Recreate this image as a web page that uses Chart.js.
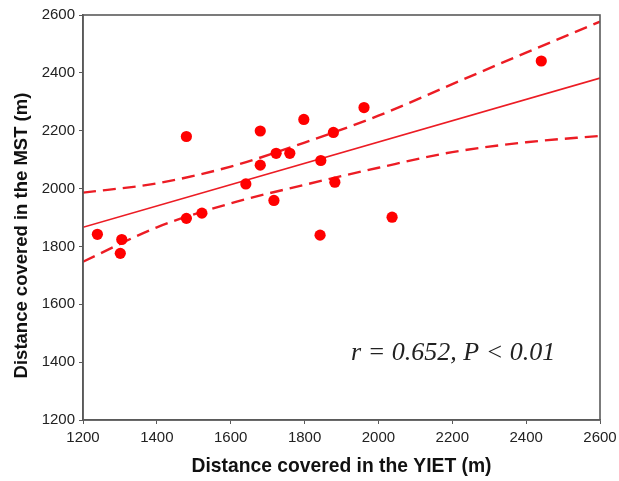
<!DOCTYPE html>
<html>
<head>
<meta charset="utf-8">
<script src="https://cdn.jsdelivr.net/npm/chart.js@4"></script>
<style>
  html, body { margin: 0; padding: 0; background: #fff; }
  #wrap { width: 619px; height: 481px; }
</style>
</head>
<body>
<div id="wrap"><canvas id="c" width="619" height="481"></canvas></div>
<script>
// ---- data ----
const yietDistance = [1239, 1305, 1301, 1480, 1480, 1522, 1641, 1680, 1680, 1723, 1717, 1760, 1798, 1844, 1842, 1878, 1882, 1961, 2037, 2441];
const mstDistance  = [1842, 1824, 1776, 2180, 1897, 1915, 2016, 2199, 2081, 2122, 1959, 2122, 2239, 2097, 1839, 2194, 2022, 2280, 1901, 2441];

const regressionX = [1200, 2600];
const regressionY = [1866, 2382];

const confX     = [1200, 1400, 1600, 1800, 2000, 2200, 2400, 2600];
const confUpper = [1986, 2018, 2076, 2159, 2252, 2361, 2470, 2577];
const confLower = [1747, 1866, 1949, 2013, 2072, 2126, 2160, 2182];

const xTickValues = [1200, 1400, 1600, 1800, 2000, 2200, 2400, 2600];
const yTickValues = [1200, 1400, 1600, 1800, 2000, 2200, 2400, 2600];

const xTitle = 'Distance covered in the YIET (m)';
const yTitle = 'Distance covered in the MST (m)';
const statText = 'r = 0.652, P < 0.01';
const statAt = { x: 1926, y: 1432 };

// ---- build ----
const zip = (xs, ys) => xs.map((x, i) => ({ x: x, y: ys[i] }));
const RED = 'rgb(255,0,0)';
const LINE_RED = 'rgb(236,28,36)';
const AXIS = '#5a5a5a';

const frame = {
  id: 'frame',
  afterDatasetsDraw(chart) {
    const { ctx, chartArea: a, scales } = chart;
    ctx.save();
    ctx.strokeStyle = AXIS;
    ctx.lineWidth = 1.6;
    ctx.strokeRect(a.left, a.top, a.right - a.left, a.bottom - a.top);
    ctx.font = 'italic 26px "Liberation Serif", "Times New Roman", serif';
    ctx.fillStyle = '#222';
    ctx.textAlign = 'left';
    ctx.textBaseline = 'middle';
    ctx.fillText(statText, scales.x.getPixelForValue(statAt.x), scales.y.getPixelForValue(statAt.y));
    // y axis title, placed slightly below the axis centre as in the reference
    ctx.translate(22, (a.top + a.bottom) / 2 + 18);
    ctx.rotate(-Math.PI / 2);
    ctx.font = 'bold 18.5px "Liberation Sans", Arial, sans-serif';
    ctx.fillStyle = '#111';
    ctx.textAlign = 'center';
    ctx.fillText(yTitle, 0, 0);
    ctx.restore();
  }
};

const plainNumber = v => String(v);

new Chart(document.getElementById('c'), {
  type: 'scatter',
  data: {
    datasets: [
      {
        type: 'line', data: zip(confX, confUpper), borderColor: LINE_RED, borderWidth: 2.4,
        borderDash: [13, 7], pointRadius: 0, fill: false, cubicInterpolationMode: 'monotone', order: 3
      },
      {
        type: 'line', data: zip(confX, confLower), borderColor: LINE_RED, borderWidth: 2.4,
        borderDash: [13, 7], pointRadius: 0, fill: false, cubicInterpolationMode: 'monotone', order: 3
      },
      {
        type: 'line', data: zip(regressionX, regressionY), borderColor: LINE_RED, borderWidth: 1.6,
        pointRadius: 0, fill: false, order: 2
      },
      {
        type: 'scatter', data: zip(yietDistance, mstDistance), backgroundColor: RED,
        borderColor: RED, borderWidth: 0, pointRadius: 5.6, order: 1
      }
    ]
  },
  options: {
    responsive: false,
    animation: false,
    devicePixelRatio: 1,
    layout: { padding: { left: 0, right: 19, top: 15, bottom: 0 } },
    plugins: { legend: { display: false }, tooltip: { enabled: false } },
    scales: {
      x: {
        type: 'linear', min: 1200, max: 2600,
        afterBuildTicks: s => { s.ticks = xTickValues.map(v => ({ value: v })); },
        afterFit: s => { s.height = 61; s.paddingLeft = 0; s.paddingRight = 0; },
        border: { display: true, color: AXIS, width: 1.6 },
        grid: { display: true, drawOnChartArea: false, drawTicks: true, tickLength: 4, color: AXIS, tickColor: AXIS },
        ticks: { color: '#222', padding: 5, callback: plainNumber, font: { family: '"Liberation Sans", Arial, sans-serif', size: 15 }, maxRotation: 0, autoSkip: false },
        title: { display: true, text: xTitle, color: '#111', padding: { top: 0, bottom: 3 },
                 font: { family: '"Liberation Sans", Arial, sans-serif', size: 19.3, weight: 'bold' } }
      },
      y: {
        type: 'linear', min: 1200, max: 2600,
        afterBuildTicks: s => { s.ticks = yTickValues.map(v => ({ value: v })); },
        afterFit: s => { s.width = 83; s.paddingTop = 0; s.paddingBottom = 0; },
        border: { display: true, color: AXIS, width: 1.6 },
        grid: { display: true, drawOnChartArea: false, drawTicks: true, tickLength: 4, color: AXIS, tickColor: AXIS },
        ticks: { color: '#222', padding: 4, callback: plainNumber, font: { family: '"Liberation Sans", Arial, sans-serif', size: 15 }, autoSkip: false },
        title: { display: false, text: yTitle }
      }
    }
  },
  plugins: [frame]
});
</script>
</body>
</html>
